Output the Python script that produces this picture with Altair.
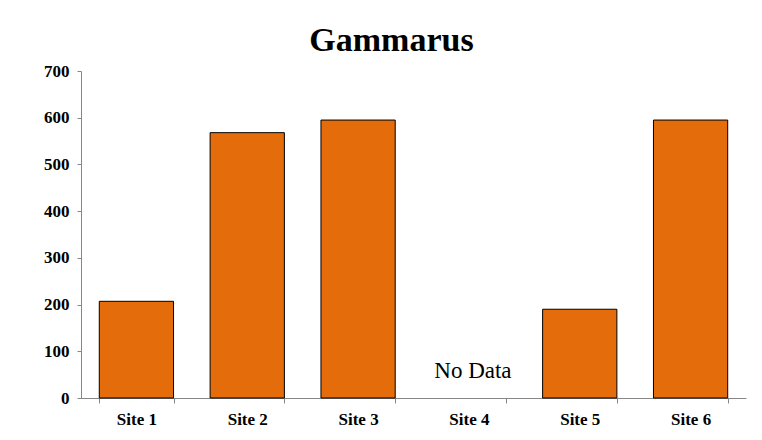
import altair as alt
import pandas as pd

sites = ["Site 1", "Site 2", "Site 3", "Site 4", "Site 5", "Site 6"]
counts = [207, 568, 595, None, 190, 595]
note_sites = ["Site 4"]
note_texts = ["No Data"]
note_values = [43]

df = pd.DataFrame({"site": sites, "count": counts})
notes = pd.DataFrame({"site": note_sites, "text": note_texts, "val": note_values})

FONT = "Liberation Serif"
AXIS_GRAY = "#868686"

x_scale = alt.Scale(domain=sites, paddingInner=0.33, paddingOuter=0.165)
x_enc = alt.X(
    "site:N",
    sort=sites,
    scale=x_scale,
    axis=alt.Axis(
        title=None, labelAngle=0, tickBand="extent", tickSize=5,
        labelPadding=8, labelFont=FONT, labelFontSize=17, labelFontWeight="bold",
        labelColor="black", domainColor=AXIS_GRAY, tickColor=AXIS_GRAY,
    ),
)
y_scale = alt.Scale(domain=[0, 700], nice=False)
y_axis = alt.Axis(
    title=None, values=list(range(0, 701, 100)), grid=False, tickSize=4,
    labelPadding=8, labelFont=FONT, labelFontSize=17, labelFontWeight="bold",
    labelColor="black", domainColor=AXIS_GRAY, tickColor=AXIS_GRAY,
)

bars = alt.Chart(df).mark_bar(color="#E46C0A", stroke="black", strokeWidth=1).encode(
    x=x_enc,
    y=alt.Y("count:Q", scale=y_scale, axis=y_axis),
)

text = alt.Chart(notes).mark_text(
    font=FONT, fontSize=23, color="black", baseline="alphabetic", dx=4
).encode(
    x=alt.X("site:N", sort=sites, scale=x_scale),
    y=alt.Y("val:Q", scale=y_scale),
    text="text:N",
)

chart = (bars + text).properties(
    width=665,
    height=327,
    title=alt.TitleParams(
        "Gammarus", font=FONT, fontSize=34, fontWeight="bold", color="black",
        anchor="middle", offset=4, dx=-22,
    ),
    padding={"left": 73, "top": 63, "right": 8, "bottom": 34},
    autosize=alt.AutoSizeParams(type="none"),
).configure(
    background="white",
    view=alt.ViewConfig(strokeWidth=0, stroke="transparent"),
)

chart.save("out.html", embed_options={"renderer": "svg", "actions": False})
